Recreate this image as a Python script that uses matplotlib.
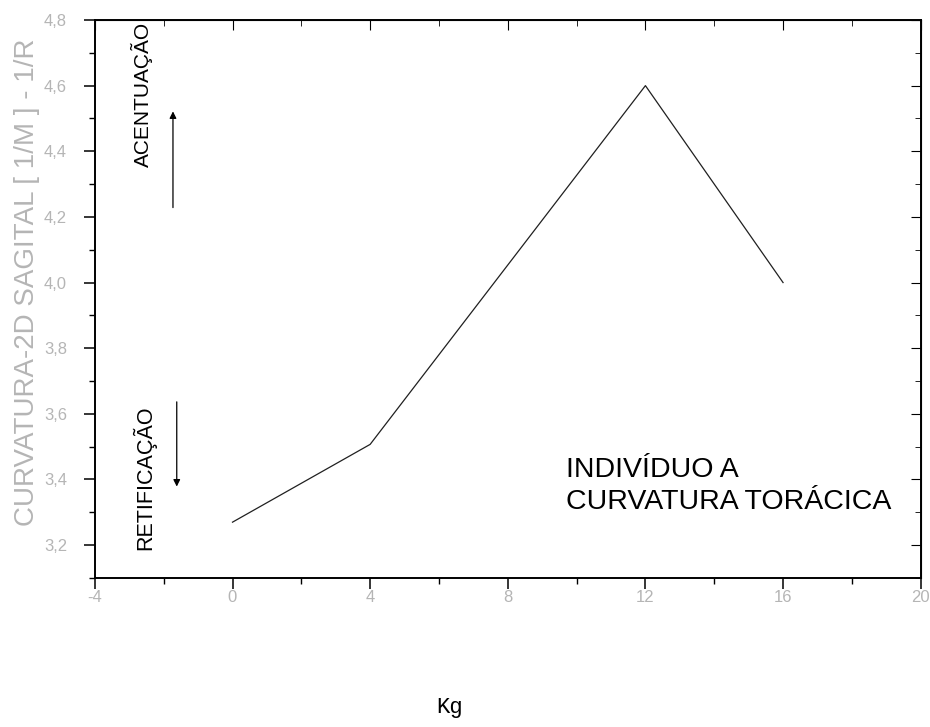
import matplotlib
matplotlib.use('Agg')
import matplotlib.pyplot as plt
from matplotlib.ticker import MultipleLocator, FuncFormatter

# dados
kg = [0, 4, 12, 16]
curvatura = [3.27, 3.507, 4.6, 4.0]

x_ticks = [-4, 0, 4, 8, 12, 16, 20]
y_ticks = [3.2, 3.4, 3.6, 3.8, 4.0, 4.2, 4.4, 4.6, 4.8]

plt.rcParams['font.family'] = ['Liberation Sans', 'DejaVu Sans']

fig = plt.figure(figsize=(9.3, 7.27), dpi=100)
ax = fig.add_axes([0.102, 0.205, 0.888, 0.7675])

ax.plot(kg, curvatura, color='#202020', linewidth=0.9)

ax.set_xlim(-4, 20)
ax.set_ylim(3.1, 4.8)
ax.set_xticks(x_ticks)
ax.set_yticks(y_ticks)
ax.xaxis.set_minor_locator(MultipleLocator(2))
ax.yaxis.set_minor_locator(MultipleLocator(0.1))

# rótulos com vírgula decimal
ax.yaxis.set_major_formatter(FuncFormatter(lambda v, p: ('%.1f' % v).replace('.', ',')))
ax.xaxis.set_major_formatter(FuncFormatter(lambda v, p: '%d' % v))

grey = '#b5b5b5'
ax.tick_params(which='both', direction='out', colors='black', labelcolor=grey, labelsize=12)
ax.tick_params(which='major', length=8, width=1.1)
ax.tick_params(which='minor', length=4, width=1.0)
ax.tick_params(axis='x', pad=1)
ax.tick_params(axis='y', pad=12)

for s in ax.spines.values():
    s.set_linewidth(1.4)

# eixos de cima e da direita com marcas para dentro
top = ax.secondary_xaxis('top')
top.set_xticks(x_ticks)
top.xaxis.set_minor_locator(MultipleLocator(2))
top.tick_params(which='both', direction='in', labeltop=False)
top.tick_params(which='major', length=7)
top.tick_params(which='minor', length=4)
right = ax.secondary_yaxis('right')
right.set_yticks(y_ticks)
right.yaxis.set_minor_locator(MultipleLocator(0.1))
right.tick_params(which='both', direction='in', labelright=False)
right.tick_params(which='major', length=7)
right.tick_params(which='minor', length=4)

ax.set_ylabel('CURVATURA-2D SAGITAL [ 1/M ] - 1/R', color=grey, fontsize=20)
ax.yaxis.set_label_coords(-0.066, 0.53)
fig.text(0.484, 0.012, 'Kg', fontsize=16, family=['Liberation Mono', 'DejaVu Sans Mono'],
         ha='center', va='bottom')

# setas e anotações
ax.annotate('', xy=(-1.73, 4.53), xytext=(-1.73, 4.22),
            arrowprops=dict(arrowstyle='-|>', color='black', lw=0.9, mutation_scale=10))
ax.annotate('', xy=(-1.62, 3.37), xytext=(-1.62, 3.645),
            arrowprops=dict(arrowstyle='-|>', color='black', lw=0.9, mutation_scale=10))
ax.text(-2.62, 4.795, 'ACENTUAÇÃO', rotation=90, fontsize=15, ha='center', va='top')
ax.text(-2.58, 3.185, 'RETIFICAÇÃO', rotation=90, fontsize=15.5, ha='center', va='bottom')

ax.text(9.7, 3.38, 'INDIVÍDUO A\nCURVATURA TORÁCICA', fontsize=20.5, ha='left', va='center',
        linespacing=1.3)

fig.savefig('out.png', dpi=100)
